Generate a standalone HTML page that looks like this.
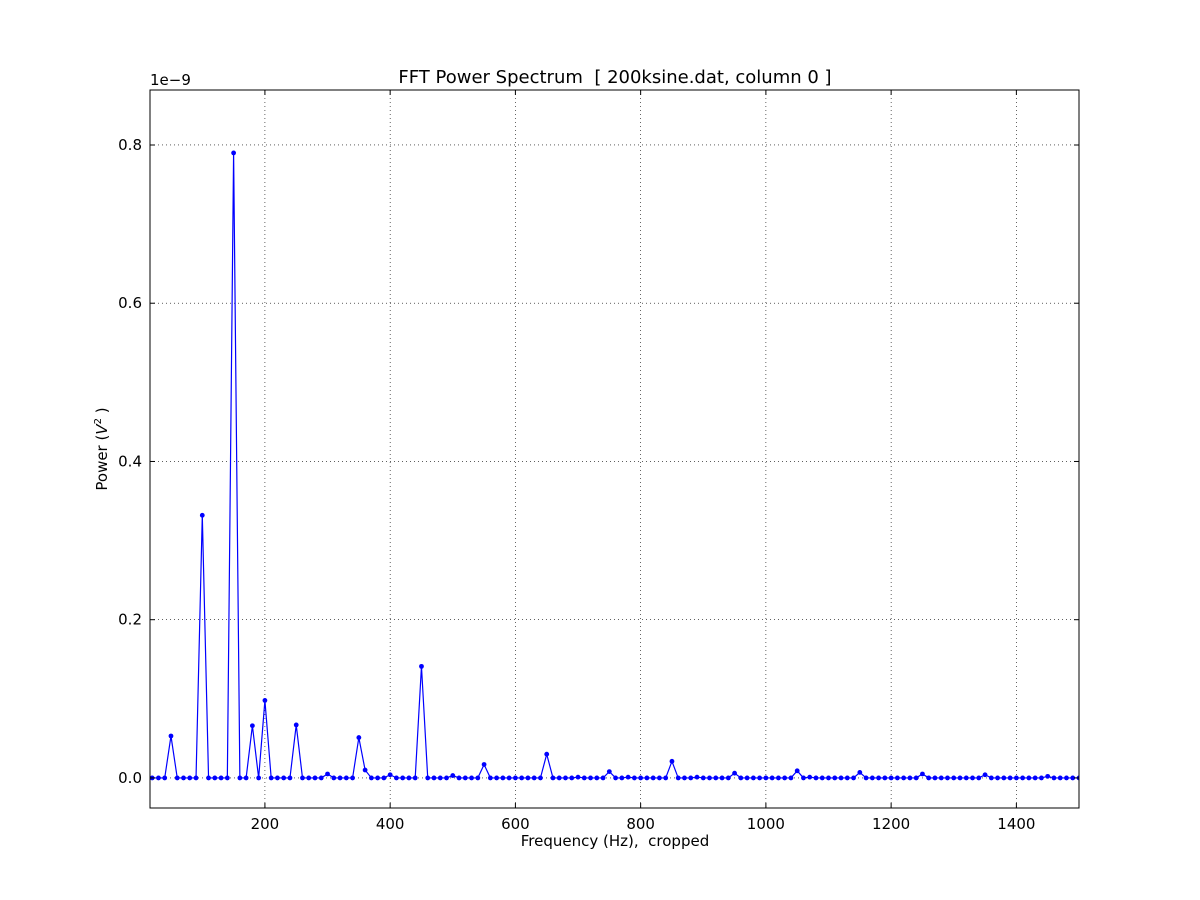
<!DOCTYPE html>
<html><head><meta charset="utf-8"><style>
html,body{margin:0;padding:0;background:#fff}
svg{display:block;font-family:"DejaVu Sans","Liberation Sans",sans-serif}
</style></head><body>
<svg id="chart" width="1200" height="900" viewBox="0 0 1200 900" xmlns="http://www.w3.org/2000/svg">
<rect x="0" y="0" width="1200" height="900" fill="#fff"/>
<text x="615" y="83" font-size="18" text-anchor="middle">FFT Power Spectrum &#160;[ 200ksine.dat, column 0 ]</text>
<text x="615" y="846" font-size="15" text-anchor="middle">Frequency (Hz), &#160;cropped</text>
<text transform="translate(107,449) rotate(-90)" font-size="15" text-anchor="middle">Power (<tspan font-style="italic">V</tspan><tspan font-size="10" dy="-6">2</tspan><tspan dy="6"> )</tspan></text>
<text x="150" y="85" font-size="15">1e−9</text>
<g id="grid"></g><g id="series"></g><g id="axes"></g>
</svg>
<script>
const xTicks=[200,400,600,800,1000,1200,1400];
const yTicks=[0.0,0.2,0.4,0.6,0.8];
const yTickLabels=["0.0","0.2","0.4","0.6","0.8"];
const freqs=[];for(let f=20;f<=1500;f+=10)freqs.push(f);
const peakFreqs=[50,100,150,180,200,250,300,350,360,400,450,500,550,650,700,750,780,850,890,950,1050,1070,1150,1250,1350,1450];
const peakPowers=[0.053,0.332,0.79,0.066,0.098,0.067,0.005,0.051,0.01,0.004,0.141,0.003,0.017,0.030,0.001,0.008,0.001,0.021,0.001,0.006,0.009,0.001,0.007,0.005,0.004,0.002];
const powers=freqs.map(f=>{const i=peakFreqs.indexOf(f);return i>=0?peakPowers[i]:0;});

const L=150,R=1079,T=90,B=808,xmin=16.5,xmax=1500,ymin=-0.038,ymax=0.8695;
const X=v=>L+(v-xmin)/(xmax-xmin)*(R-L);
const Y=v=>B-(v-ymin)/(ymax-ymin)*(B-T);
const NS="http://www.w3.org/2000/svg";
function mk(tag,attrs,parent){const e=document.createElementNS(NS,tag);for(const k in attrs)e.setAttribute(k,attrs[k]);parent.appendChild(e);return e;}
const grid=document.getElementById('grid'),series=document.getElementById('series'),axes=document.getElementById('axes');
xTicks.forEach(t=>{
  const g=mk('line',{x1:X(t),x2:X(t),y1:T,y2:B,stroke:'#000','stroke-width':0.6,'stroke-dasharray':'1,3'},grid);
  
  
  mk('line',{x1:X(t),x2:X(t),y1:B,y2:B-5,stroke:'#000'},axes);
  mk('line',{x1:X(t),x2:X(t),y1:T,y2:T+5,stroke:'#000'},axes);
  const tx=mk('text',{x:X(t),y:B+21,'font-size':15,'text-anchor':'middle'},axes);tx.textContent=t;
  
  
});
yTicks.forEach((t,i)=>{
  const g=mk('line',{x1:L,x2:R,y1:Y(t),y2:Y(t),stroke:'#000','stroke-width':0.6,'stroke-dasharray':'1,3'},grid);
  
  
  mk('line',{x1:L,x2:L+5,y1:Y(t),y2:Y(t),stroke:'#000'},axes);
  mk('line',{x1:R,x2:R-5,y1:Y(t),y2:Y(t),stroke:'#000'},axes);
  const tx=mk('text',{x:L-8,y:Y(t)+5,'font-size':15,'text-anchor':'end'},axes);tx.textContent=yTickLabels[i];
  
  
});
const fr=mk('rect',{x:L,y:T,width:R-L,height:B-T,fill:'none',stroke:'#000','stroke-width':1},axes);


const cp=mk('clipPath',{id:'clip'},series);mk('rect',{x:L,y:T,width:R-L,height:B-T},cp);
const line=mk('polyline',{points:freqs.map((f,i)=>X(f)+','+Y(powers[i])).join(' '),fill:'none',stroke:'#0000ff','stroke-width':1.2,'clip-path':'url(#clip)'},series);


freqs.forEach((f,i)=>{
  const c=mk('circle',{cx:X(f),cy:Y(powers[i]),r:2.4,fill:'#0000ff','clip-path':'url(#clip)'},series);
  
  
});
</script>
</body></html>
